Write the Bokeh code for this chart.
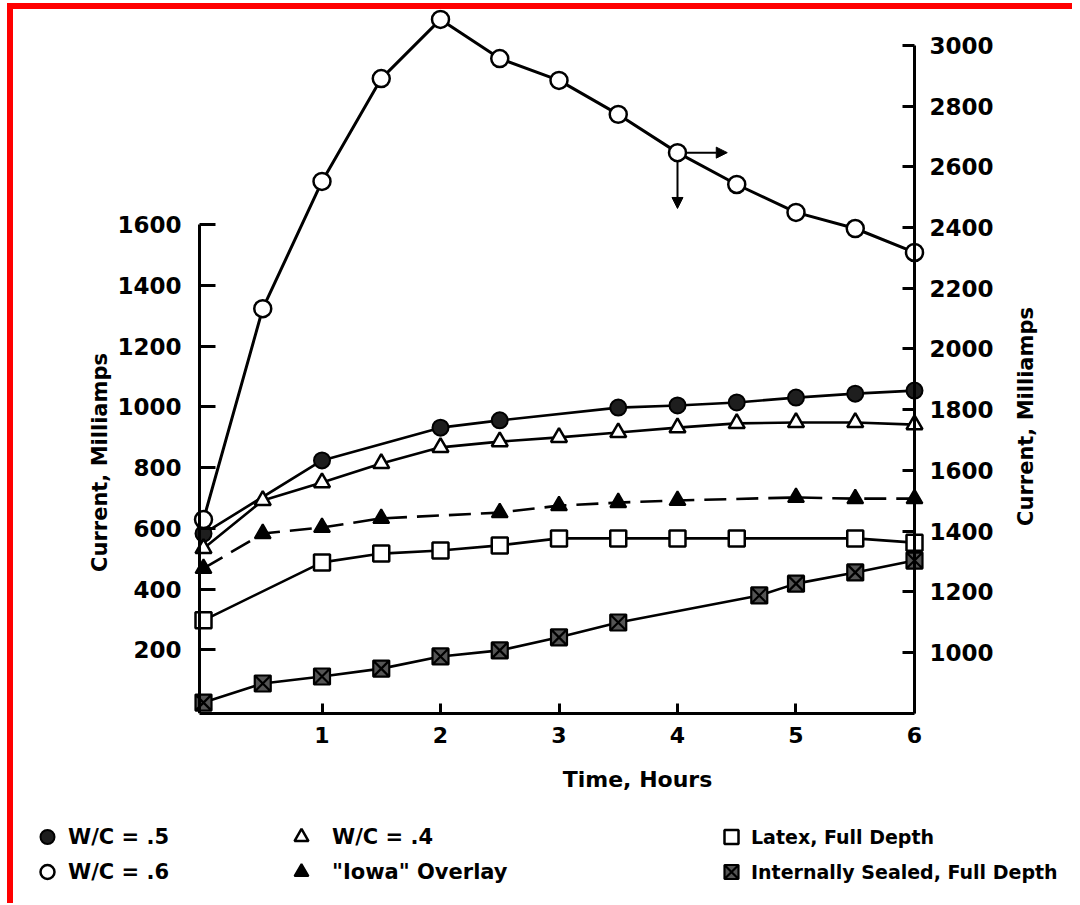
import math
from bokeh.plotting import figure
from bokeh.models import (Range1d, LinearAxis, FixedTicker, Legend, LegendItem,
                          Label, Arrow, NormalHead, Spacer)
from bokeh.layouts import column, row
from bokeh.embed import file_html
from bokeh.resources import INLINE

# ---------------- data ----------------
hours_wc6 = [0, 0.5, 1, 1.5, 2, 2.5, 3, 3.5, 4, 4.5, 5, 5.5, 6]
wc6 = [1438, 2133, 2552, 2891, 3086, 2957, 2885, 2773, 2647, 2542, 2450, 2397, 2318]  # right axis

hours_wc5 = [0, 1, 2, 2.5, 3.5, 4, 4.5, 5, 5.5, 6]
wc5 = [583, 824, 932, 956, 998, 1005, 1015, 1031, 1044, 1054]

hours_wc4 = [0, 0.5, 1, 1.5, 2, 2.5, 3, 3.5, 4, 4.5, 5, 5.5, 6]
wc4 = [534, 692, 751, 814, 867, 886, 900, 916, 932, 946, 949, 949, 942]

hours_iowa = [0, 0.5, 1, 1.5, 2.5, 3, 3.5, 4, 5, 5.5, 6]
iowa = [468, 583, 603, 633, 652, 675, 685, 692, 702, 698, 698]

hours_latex = [0, 1, 1.5, 2, 2.5, 3, 3.5, 4, 4.5, 5.5, 6]
latex = [297, 488, 517, 527, 544, 567, 567, 567, 567, 567, 553]

hours_sealed = [0, 0.5, 1, 1.5, 2, 2.5, 3, 3.5, 4.69, 5, 5.5, 6]
sealed = [26, 89, 112, 138, 178, 198, 241, 290, 379, 418, 455, 494]

x_ticks = [1, 2, 3, 4, 5, 6]
left_ticks = [200, 400, 600, 800, 1000, 1200, 1400, 1600]
right_ticks = [1000, 1200, 1400, 1600, 1800, 2000, 2200, 2400, 2600, 2800, 3000]

labels = ["W/C = .5", "W/C = .6", "W/C = .4", "\"Iowa\" Overlay",
          "Latex, Full Depth", "Internally Sealed, Full Depth"]
x_title = "Time, Hours"
y_title = "Current, Milliamps"

# arrow marking the W/C=.6 curve as read on the right axis
arrow_x0, arrow_y0 = 4.0, 2647

FONT = "DejaVu Sans"
W = 1058          # total width of the drawing (right of the red band)
H_MAIN = 746      # chart row height
LH = 137          # legend strip height
WL, WR = 100, 70  # side strips holding the rotated axis titles


def bare_figure(w, h):
    f = figure(width=w, height=h, x_range=Range1d(0, w), y_range=Range1d(0, h),
               output_backend="svg", toolbar_location=None,
               x_axis_type=None, y_axis_type=None,
               min_border_left=0, min_border_right=0, min_border_top=0, min_border_bottom=0)
    f.grid.visible = False
    f.outline_line_color = None
    f.background_fill_color = "white"
    f.border_fill_color = "white"
    return f


# ---------------- main figure ----------------
p = figure(width=W - WL - WR, height=H_MAIN,
           x_range=Range1d(-0.1435, 6.1013), y_range=Range1d(-9.9, 2309.7),
           output_backend="svg", toolbar_location=None,
           min_border_left=73, min_border_right=75,
           min_border_top=0, min_border_bottom=42)
p.extra_y_ranges = {"right": Range1d(799.0, 3118.6)}
p.grid.visible = False
p.outline_line_color = None
p.background_fill_color = "white"
p.border_fill_color = "white"


def style_axis(ax, tick_in, line=True, labels_on=True, size="23px"):
    ax.axis_line_color = "black" if line else None
    ax.axis_line_width = 3
    ax.major_tick_line_color = "black" if line else None
    ax.major_tick_line_width = 3
    ax.major_tick_in = tick_in
    ax.major_tick_out = 0
    ax.minor_tick_in = 0
    ax.minor_tick_out = 0
    ax.minor_tick_line_color = None
    ax.major_label_text_font = FONT
    ax.major_label_text_font_style = "bold"
    ax.major_label_text_font_size = size if labels_on else "0px"
    ax.major_label_text_color = "black" if labels_on else None
    if not labels_on:
        ax.major_label_standoff = 0


# left axis: tick labels in the panel, line + ticks drawn at x = 0
ya = p.yaxis[0]
ya.ticker = FixedTicker(ticks=left_ticks)
style_axis(ya, 0, line=False)
ya.major_label_standoff = 5

ya_line = LinearAxis(ticker=FixedTicker(ticks=left_ticks), fixed_location=-0.03,
                     bounds=(-9.9, 1600))
style_axis(ya_line, 16, labels_on=False)
p.add_layout(ya_line, "left")

# bottom axis
xa = p.xaxis[0]
xa.ticker = FixedTicker(ticks=x_ticks)
xa.bounds = (-0.03, 6)
style_axis(xa, 10, size="22px")
xa.major_label_standoff = 13

# right axis: tick labels in the panel, line + ticks drawn at x = 6
ra = LinearAxis(y_range_name="right", ticker=FixedTicker(ticks=right_ticks))
style_axis(ra, 0, line=False)
ra.major_label_standoff = 3
p.add_layout(ra, "right")

ra_line = LinearAxis(y_range_name="right", ticker=FixedTicker(ticks=right_ticks),
                     fixed_location=6, bounds=(799.0, 3000))
style_axis(ra_line, 12, labels_on=False)
p.add_layout(ra_line, "right")

# ---------------- lines ----------------
p.line(hours_wc6, wc6, y_range_name="right", line_color="black", line_width=3)
p.line(hours_wc5, wc5, line_color="black", line_width=2.6)
p.line(hours_wc4, wc4, line_color="black", line_width=2.6)
p.line(hours_iowa, iowa, line_color="black", line_width=2.6, line_dash="22 10")
p.line(hours_latex, latex, line_color="black", line_width=2.6)
p.line(hours_sealed, sealed, line_color="black", line_width=2.6)

# ---------------- markers ----------------
STY = {
    "wc5": dict(marker="circle", fill_color="#1e1e1e", line_color="black", line_width=2),
    "wc6": dict(marker="circle", fill_color="white", line_color="black", line_width=2.5),
    "wc4": dict(marker="triangle", fill_color="white", line_color="black", line_width=2.5),
    "iowa": dict(marker="triangle", fill_color="black", line_color="black", line_width=2),
    "latex": dict(marker="square", fill_color="white", line_color="black", line_width=2.5),
    "sealed": dict(marker="square_x", fill_color="#555555", line_color="black", line_width=2.2),
}
p.scatter(hours_wc5, wc5, size=16, **STY["wc5"])
p.scatter(hours_wc6, wc6, y_range_name="right", size=17, **STY["wc6"])
p.scatter(hours_wc4, wc4, size=16, **STY["wc4"])
p.scatter(hours_iowa, iowa, size=16, **STY["iowa"])
p.scatter(hours_latex, latex, size=16, **STY["latex"])
p.scatter(hours_sealed, sealed, size=16, **STY["sealed"])

# ---------------- arrows ----------------
p.add_layout(Arrow(end=NormalHead(size=11, fill_color="black", line_color="black"),
                   x_start=arrow_x0 + 0.07, y_start=arrow_y0, x_end=4.42, y_end=arrow_y0,
                   y_range_name="right", line_color="black", line_width=2))
p.add_layout(Arrow(end=NormalHead(size=11, fill_color="black", line_color="black"),
                   x_start=arrow_x0, y_start=arrow_y0 - 26, x_end=arrow_x0, y_end=2463,
                   y_range_name="right", line_color="black", line_width=2))

# ---------------- axis titles (side strips) ----------------
sL = bare_figure(WL, H_MAIN)
sL.add_layout(Label(x=86, y=293, x_units="screen", y_units="screen", text=y_title,
                    angle=math.pi / 2, text_align="center", text_baseline="middle",
                    text_font=FONT, text_font_style="bold", text_font_size="21px",
                    text_color="black"))
sR = bare_figure(WR, H_MAIN)
sR.add_layout(Label(x=24, y=339, x_units="screen", y_units="screen", text=y_title,
                    angle=math.pi / 2, text_align="center", text_baseline="middle",
                    text_font=FONT, text_font_style="bold", text_font_size="21px",
                    text_color="black"))

# ---------------- legend strip (own figure below the chart) ----------------
pl = bare_figure(W, LH)
keys = ["wc5", "wc6", "wc4", "iowa", "latex", "sealed"]
dummy = {k: pl.scatter(x=[-500], y=[-500], size=14, **STY[k]) for k in keys}

pl.add_layout(Label(x=624, y=113, x_units="screen", y_units="screen", text=x_title,
                    text_align="center", text_baseline="middle", text_font=FONT,
                    text_font_style="bold", text_font_size="22px", text_color="black"))


def add_legend(idx, vx, standoff, fsize="21px"):
    items = [LegendItem(label=labels[i], renderers=[dummy[keys[i]]]) for i in idx]
    lg = Legend(items=items, location=(vx, 3), orientation="vertical",
                glyph_width=38, glyph_height=35, label_height=35, spacing=0,
                padding=0, margin=0, border_line_color=None,
                background_fill_alpha=0, label_standoff=standoff,
                label_text_font=FONT, label_text_font_style="bold",
                label_text_font_size=fsize, label_text_color="black")
    pl.add_layout(lg)


add_legend([0, 1], 15, 2)
add_legend([2, 3], 269, 12)
add_legend([4, 5], 699, 1, fsize="19px")

for fig in (p, sL, sR, pl):
    try:
        fig.frame_align = False
    except Exception:
        pass

# ---------------- red frame of the picture ----------------
top_band = Spacer(width=W + 7, height=6, styles={"background-color": "red"})
left_band = Spacer(width=6, height=H_MAIN + LH + 11, styles={"background-color": "red"})
layout = column(top_band,
                row(left_band, column(row(sL, p, sR), pl)),
                styles={"margin-top": "3px", "margin-left": "7px"})

open("out.html", "w").write(file_html(layout, INLINE))
